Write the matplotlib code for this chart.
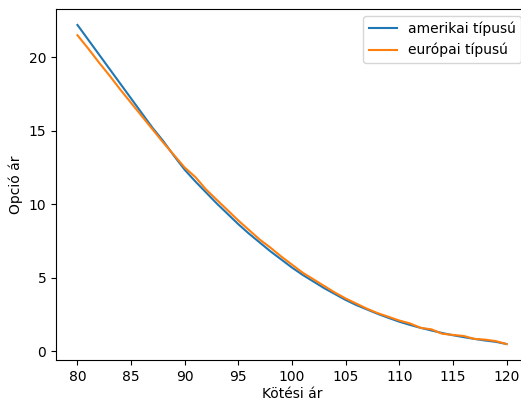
import numpy as np
import matplotlib
matplotlib.use("Agg")
import matplotlib.pyplot as plt

# strike prices
strikes = np.arange(80, 121)

# option prices
american = [22.2, 21.2, 20.2, 19.2, 18.2, 17.2, 16.2, 15.2, 14.3, 13.3,
            12.35, 11.55, 10.8, 10.05, 9.35, 8.65, 8.0, 7.4, 6.8, 6.25,
            5.7, 5.2, 4.75, 4.3, 3.9, 3.5, 3.15, 2.85, 2.55, 2.28,
            2.02, 1.8, 1.6, 1.42, 1.25, 1.1, 0.97, 0.85, 0.74, 0.65, 0.5]
european = [21.5, 20.6, 19.65, 18.75, 17.8, 16.9, 16.0, 15.1, 14.2, 13.35,
            12.5, 11.85, 11.0, 10.3, 9.6, 8.9, 8.25, 7.6, 7.05, 6.45,
            5.9, 5.35, 4.9, 4.45, 4.0, 3.6, 3.25, 2.9, 2.6, 2.35,
            2.1, 1.9, 1.6, 1.5, 1.2, 1.12, 1.05, 0.85, 0.8, 0.7, 0.5]

fig = plt.figure(figsize=(5.21, 4.01), dpi=100)
ax = fig.add_axes([56/521, 41/401, 472/521, 351/401])
ax.plot(strikes, american, label='amerikai típusú')
ax.plot(strikes, european, label='európai típusú')
ax.set_xlabel('Kötési ár', labelpad=2)
ax.set_ylabel('Opció ár')
ax.legend(loc='upper right')
fig.savefig('out.png', dpi=100)
